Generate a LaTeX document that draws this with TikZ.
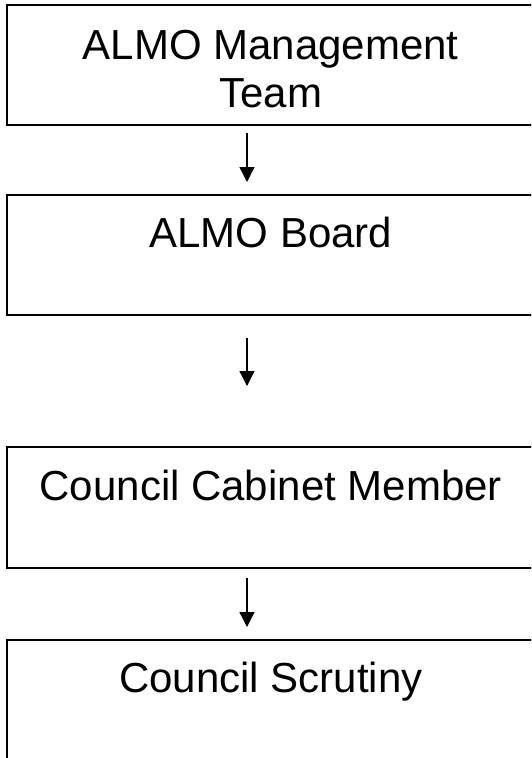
\documentclass[tikz,border=0pt]{standalone}
\usepackage{fontspec}
\setmainfont{Liberation Sans}
\usetikzlibrary{arrows.meta}
\begin{document}
\begin{tikzpicture}[x=1pt,y=-1pt,
  box/.style={draw=black, line width=2pt, rectangle, inner sep=0pt, outer sep=0pt,
              anchor=north west, minimum width=528.5pt},
  lbl/.style={anchor=base, inner sep=0pt, font=\fontsize{42}{48}\selectfont},
  flow/.style={line width=1.3pt, -{Triangle[length=15pt,width=15pt]}}]
  \useasboundingbox (0,0) rectangle (531,758);
  \clip (0,0) rectangle (531,758);

  % boxes
  \node[box, minimum height=120pt] (b1) at (6.5,5) {};
  \node[box, minimum height=120pt] (b2) at (6.5,195) {};
  \node[box, minimum height=121pt] (b3) at (6.5,447) {};
  \node[box, minimum height=150pt] (b4) at (6.5,640) {};

  % labels
  \node[lbl] (t1a) at (270.75,59) {ALMO Management};
  \node[lbl] (t1b) at (270.75,107) {Team};
  \node[lbl] (t2) at (270.75,247) {ALMO Board};
  \node[lbl] (t3) at (270.75,500) {Council Cabinet Member};
  \node[lbl] (t4) at (270.75,692) {Council Scrutiny};

  % connectors
  \draw[flow] ([xshift=-23.75pt,yshift=-8pt]b1.south) -- ([xshift=-23.75pt,yshift=13pt]b2.north);
  \draw[flow] ([xshift=-23.75pt,yshift=-23pt]b2.south) -- ([xshift=-23.75pt,yshift=61pt]b3.north);
  \draw[flow] ([xshift=-23.75pt,yshift=-10pt]b3.south) -- ([xshift=-23.75pt,yshift=13pt]b4.north);
\end{tikzpicture}
\end{document}
